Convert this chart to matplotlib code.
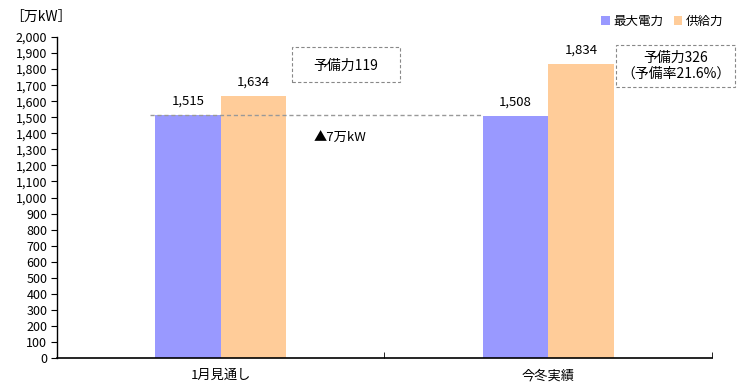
import matplotlib
matplotlib.use("Agg")
import matplotlib.pyplot as plt
from matplotlib.patches import Rectangle
import numpy as np

plt.rcParams["font.family"] = ["Noto Sans CJK JP", "DejaVu Sans"]

# Data
categories = ["1月見通し", "今冬実績"]
series_names = ["最大電力", "供給力"]
max_demand = [1515, 1508]
supply = [1634, 1834]
colors = ["#9999FF", "#FFCC99"]

fig = plt.figure(figsize=(7.5, 3.92), dpi=100)
ax = fig.add_axes([57 / 750, 1 - 358 / 392, 655 / 750, 321 / 392])

x = np.arange(len(categories))
w = 0.2
b1 = ax.bar(x - w / 2, max_demand, w, color=colors[0], label=series_names[0])
b2 = ax.bar(x + w / 2, supply, w, color=colors[1], label=series_names[1])

for bars in (b1, b2):
    for r in bars:
        ax.text(r.get_x() + r.get_width() / 2, r.get_height() + 45, f"{int(r.get_height()):,}",
                ha="center", va="bottom", fontsize=9.5)

ax.set_xlim(-0.5, 1.5)
ax.set_ylim(0, 2000)
ax.set_yticks(np.arange(0, 2001, 100))
ax.set_yticklabels([f"{v:,}" for v in range(0, 2001, 100)], fontsize=9)
ax.set_xticks(x)
ax.set_xticklabels(categories, fontsize=9.5)
ax.tick_params(axis="x", length=0, pad=8)
ax.set_xticks([0.5, 1.5], minor=True)
ax.tick_params(axis="x", which="minor", direction="in", length=4, width=0.6)
ax.tick_params(axis="y", length=4, width=0.8, pad=3)
for s in ("top", "right"):
    ax.spines[s].set_visible(False)
ax.spines["left"].set_linewidth(1.0)
ax.spines["bottom"].set_linewidth(1.2)

# dashed reference line at 1月 maximum demand
ax.plot([-0.216, 1 - w], [max_demand[0], max_demand[0]], color="#999999", lw=1.0,
        ls=(0, (3, 2)))

ax.text(0.364, 1371, "▲7万kW", ha="center", va="center", fontsize=9.5)

# dashed annotation boxes
ax.add_patch(Rectangle((0.218, 1720), 0.329, 218, fill=False, ec="#888888", lw=0.8,
                       ls=(0, (3, 2)), clip_on=False))
ax.text(0.382, 1822, "予備力119", ha="center", va="center", fontsize=10)
ax.add_patch(Rectangle((1.207, 1688), 0.363, 262, fill=False, ec="#888888", lw=0.8,
                       ls=(0, (3, 2)), clip_on=False))
ax.text(1.39, 1822, "予備力326\n（予備率21.6%）", ha="center", va="center", fontsize=10,
        linespacing=1.15)

fig.text(10 / 750, 1 - 17 / 392, "［万kW］", ha="left", va="center", fontsize=10)

leg = ax.legend(loc="upper right", bbox_to_anchor=(1.035, 1.105), ncol=2, frameon=False,
                fontsize=9, handlelength=0.7, handleheight=0.7, handletextpad=0.3,
                columnspacing=0.8)

fig.savefig("out.png", dpi=100)
